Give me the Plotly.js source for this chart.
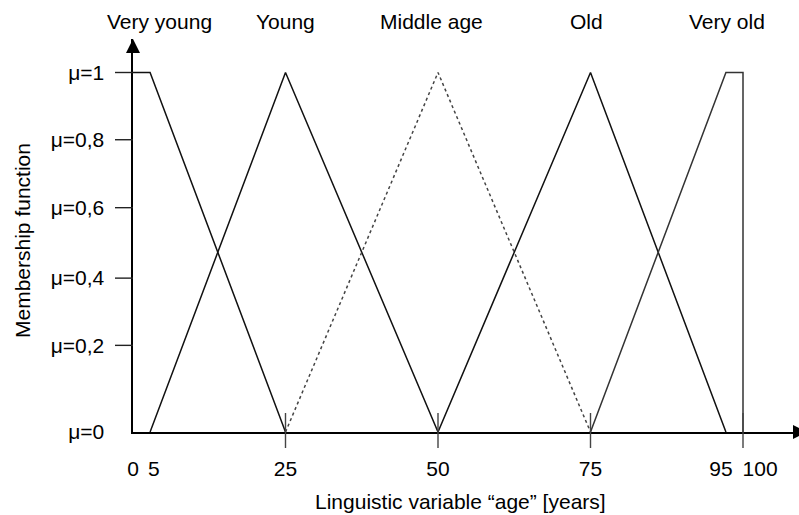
<!DOCTYPE html>
<html>
<head>
<meta charset="utf-8">
<script src="https://cdn.plot.ly/plotly-3.0.1.min.js"></script>
<style>html,body{margin:0;padding:0;background:#fff;}#chart{width:799px;height:515px;}</style>
</head>
<body>
<div id="chart"></div>
<script>
// Breakpoints of the age axis and where the (schematic, not-to-scale) figure draws them
const ageBreaks = [0, 5, 25, 50, 75, 95, 100];
const ageDrawn  = [0, 2.8, 25, 50, 75, 97.2, 100];

// Membership functions (age in years, mu)
const veryYoungAge = [0, 5, 25];        const veryYoungMu = [1, 1, 0];
const youngAge     = [5, 25, 50];       const youngMu     = [0, 1, 0];
const middleAge    = [25, 50, 75];      const middleMu    = [0, 1, 0];
const oldAge       = [50, 75, 95];      const oldMu       = [0, 1, 0];
const veryOldAge   = [75, 95, 100, 100];const veryOldMu   = [0, 1, 1, 0];

// Set names and where their headers sit
const setNames  = ['Very young', 'Young', 'Middle age', 'Old', 'Very old'];
const setLabelX = [4.3, 25, 49, 74.4, 97.4];

// X tick labels and their drawn positions
const xTickText = ['0', '5', '25', '50', '75', '95', '100'];
const xTickPos  = [0, 3.4, 25, 50, 75, 96.4, 102.8];
const xTickMarks = [25, 50, 75, 100];

// Y tick labels and their drawn positions (figure spacing is not exactly linear)
const yTickText = ['\u03bc=0', '\u03bc=0,2', '\u03bc=0,4', '\u03bc=0,6', '\u03bc=0,8', '\u03bc=1'];
const yTickPos  = [0, 0.241, 0.428, 0.624, 0.813, 1];

const pos = a => ageDrawn[ageBreaks.indexOf(a)];
const FONT = 'Liberation Sans, Arial, Helvetica, sans-serif';
const FS = 21;

const line = (ages, mu, name, dash, color) => ({
  type: 'scatter', mode: 'lines', name: name,
  x: ages.map(pos), y: mu,
  line: {color: color, width: 1.5, dash: dash},
  hoverinfo: 'skip'
});

const data = [
  line(veryYoungAge, veryYoungMu, 'Very young', 'solid', '#111'),
  line(youngAge, youngMu, 'Young', 'solid', '#111'),
  line(middleAge, middleMu, 'Middle age', 'dot', '#444'),
  line(oldAge, oldMu, 'Old', 'solid', '#111'),
  line(veryOldAge, veryOldMu, 'Very old', 'solid', '#333')
];

const plotW = 799 - 133, plotH = 515 - 83 - 39;
const shapes = [];
// y tick marks (outside, to the left)
yTickPos.slice(1).forEach(v => shapes.push({
  type: 'line', xref: 'paper', yref: 'y', x0: -18 / plotW, x1: 0, y0: v, y1: v,
  line: {color: '#222', width: 1.4}
}));
// x tick marks (crossing the axis)
xTickMarks.forEach(a => shapes.push({
  type: 'line', xref: 'x', yref: 'paper', x0: pos(a), x1: pos(a), y0: -16 / plotH, y1: 19 / plotH,
  line: {color: '#444', width: 1.4}
}));
// arrowheads
shapes.push({type: 'path', xref: 'paper', yref: 'paper', fillcolor: '#000', line: {width: 0},
  path: `M ${-7/plotW} ${1 - 14/plotH} L ${7/plotW} ${1 - 14/plotH} L 0 1 Z`});
shapes.push({type: 'path', xref: 'paper', yref: 'paper', fillcolor: '#000', line: {width: 0},
  path: `M ${(793-133)/plotW} ${7/plotH} L ${(793-133)/plotW} ${-7/plotH} L ${(807-133)/plotW} 0 Z`});

const annotations = setNames.map((t, i) => ({
  text: t, x: setLabelX[i], xref: 'x', y: (432 - 22) / plotH, yref: 'paper',
  xanchor: 'center', yanchor: 'middle', showarrow: false,
  font: {family: FONT, size: FS, color: '#000'}
}));
annotations.push({
  text: 'Linguistic variable \u201cage\u201d [years]', x: (460 - 133) / plotW, xref: 'paper',
  y: (432 - 502) / plotH, yref: 'paper', xanchor: 'center', yanchor: 'middle', showarrow: false,
  font: {family: FONT, size: FS, color: '#000'}
});
annotations.push({
  text: 'Membership function', x: (22 - 133) / plotW, xref: 'paper',
  y: (432 - 241) / plotH, yref: 'paper', xanchor: 'center', yanchor: 'middle', showarrow: false,
  textangle: -90, font: {family: FONT, size: FS, color: '#000'}
});

const layout = {
  width: 799, height: 515,
  margin: {l: 133, r: 0, t: 39, b: 83, pad: 0},
  paper_bgcolor: '#fff', plot_bgcolor: '#fff',
  showlegend: false,
  font: {family: FONT, size: FS, color: '#000'},
  xaxis: {
    range: [0, plotW / 6.1], showline: true, linecolor: '#000', linewidth: 1.6,
    showgrid: false, zeroline: false, ticks: '', tickmode: 'array',
    tickvals: xTickPos, ticktext: xTickText, ticklabelstandoff: 17,
    tickfont: {family: FONT, size: FS, color: '#000'}, fixedrange: true
  },
  yaxis: {
    range: [0, plotH / 359.5], showline: true, linecolor: '#000', linewidth: 1.6,
    showgrid: false, zeroline: false, ticks: '', tickmode: 'array',
    tickvals: yTickPos, ticktext: yTickText, ticklabelstandoff: 23,
    tickfont: {family: FONT, size: FS, color: '#000'}, fixedrange: true
  },
  shapes: shapes,
  annotations: annotations
};

Plotly.newPlot('chart', data, layout, {displayModeBar: false, staticPlot: true});
</script>
</body>
</html>
